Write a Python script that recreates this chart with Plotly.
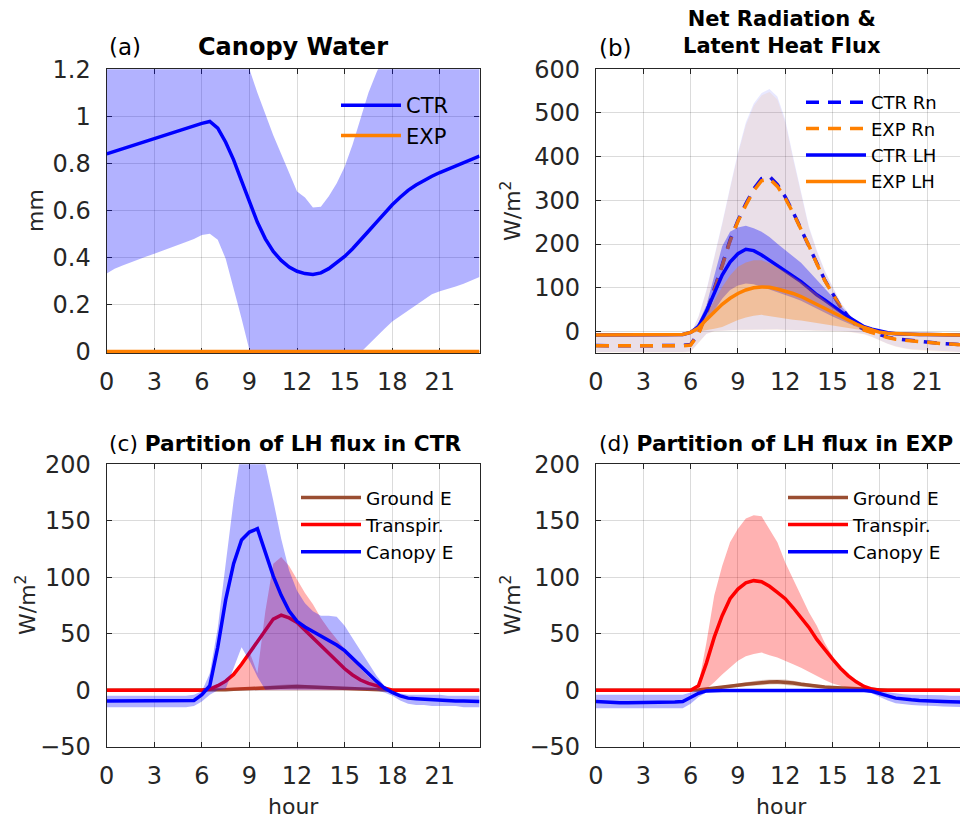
import plotly.graph_objects as go

# ---------------- data ----------------
hours = [0, 0.5, 1, 1.5, 2, 2.5, 3, 3.5, 4, 4.5, 5, 5.5, 6, 6.5, 7, 7.5, 8, 8.5, 9, 9.5,
         10, 10.5, 11, 11.5, 12, 12.5, 13, 13.5, 14, 14.5, 15, 15.5, 16, 16.5, 17, 17.5,
         18, 18.5, 19, 19.5, 20, 20.5, 21, 21.5, 22, 22.5, 23, 23.5]
hour_ticks = [0, 3, 6, 9, 12, 15, 18, 21]

# (a) canopy water (mm)
a_ctr = [0.840, 0.851, 0.862, 0.873, 0.884, 0.895, 0.906, 0.917, 0.928, 0.938, 0.948, 0.958,
         0.970, 0.978, 0.950, 0.890, 0.815, 0.725, 0.634, 0.549, 0.479, 0.425, 0.387, 0.359,
         0.341, 0.331, 0.327, 0.334, 0.352, 0.377, 0.404, 0.437, 0.472, 0.511, 0.549, 0.589,
         0.624, 0.656, 0.685, 0.708, 0.728, 0.745, 0.761, 0.775, 0.789, 0.803, 0.817, 0.831]
a_ctr_up = [1.34, 1.35, 1.36, 1.37, 1.38, 1.39, 1.40, 1.41, 1.42, 1.43, 1.44, 1.45,
            1.46, 1.46, 1.42, 1.38, 1.33, 1.27, 1.20, 1.10, 1.01, 0.92, 0.84, 0.76,
            0.68, 0.655, 0.612, 0.615, 0.66, 0.715, 0.785, 0.88, 0.99, 1.10, 1.185, 1.26,
            1.30, 1.32, 1.33, 1.34, 1.34, 1.35, 1.35, 1.35, 1.35, 1.35, 1.35, 1.35]
a_ctr_lo = [0.331, 0.352, 0.365, 0.378, 0.392, 0.404, 0.415, 0.428, 0.440, 0.452, 0.465, 0.478,
            0.495, 0.500, 0.475, 0.394, 0.268, 0.140, 0.005, -0.07, -0.12, -0.15, -0.17, -0.18,
            -0.18, -0.17, -0.16, -0.14, -0.12, -0.09, -0.06, -0.03, -0.005, 0.028, 0.063, 0.095,
            0.127, 0.152, 0.175, 0.198, 0.220, 0.243, 0.256, 0.267, 0.276, 0.288, 0.302, 0.317]
a_exp = [0, 0, 0, 0, 0, 0, 0, 0, 0, 0, 0, 0, 0, 0, 0, 0, 0, 0, 0, 0, 0, 0, 0, 0,
         0, 0, 0, 0, 0, 0, 0, 0, 0, 0, 0, 0, 0, 0, 0, 0, 0, 0, 0, 0, 0, 0, 0, 0]
a_yticks = [0, 0.2, 0.4, 0.6, 0.8, 1, 1.2]
a_yticklabels = ["0", "0.2", "0.4", "0.6", "0.8", "1", "1.2"]

# (b) net radiation & latent heat flux (W/m2)
b_ctr_rn = [-32, -33, -33, -33, -33, -33, -33, -33, -33, -33, -33, -32,
            -30, -4, 42, 95, 152, 209, 254, 292, 326, 350, 355, 336,
            308, 273, 235, 197, 156, 118, 87, 57, 34, 15, 4, -2,
            -6, -13, -17, -19, -21, -23, -25, -27, -28, -29, -30, -31]
b_exp_rn = [-33, -33, -34, -34, -34, -34, -34, -34, -34, -34, -33, -33,
            -31, -6, 40, 93, 150, 207, 252, 289, 322, 345, 349, 332,
            305, 271, 234, 196, 155, 117, 86, 56, 33, 14, 3, -3,
            -7, -14, -18, -20, -22, -24, -26, -27, -28, -29, -30, -31]
b_ctr_rn_up = [-9, -9, -9, -9, -9, -9, -9, -9, -9, -9, -9, -8,
               -6, 35, 95, 170, 248, 330, 410, 478, 522, 546, 555, 538,
               485, 400, 316, 240, 186, 140, 103, 68, 42, 23, 11, 4,
               0, -3, -5, -6, -7, -7, -8, -8, -8, -9, -9, -9]
b_ctr_rn_lo = [-47, -47, -47, -47, -47, -47, -47, -47, -47, -47, -47, -47,
               -46, -25, -5, 1, 2, 3, 4, 4, 5, 5, 5, 5,
               4, 4, 3, 3, 2, 2, 1, 1, 0, -3, -6, -12,
               -20, -28, -34, -38, -41, -43, -44, -45, -46, -47, -47, -48]
b_exp_rn_up = [-9, -9, -9, -9, -9, -9, -9, -9, -9, -9, -9, -8,
               -6, 33, 92, 166, 244, 326, 405, 472, 516, 540, 548, 531,
               478, 394, 311, 236, 183, 137, 101, 66, 41, 22, 10, 3,
               0, -3, -5, -6, -7, -7, -8, -8, -8, -9, -9, -9]
b_exp_rn_lo = [-48, -48, -48, -48, -48, -48, -48, -48, -48, -48, -48, -48,
               -47, -26, -6, 0, 1, 2, 3, 3, 4, 4, 4, 4,
               3, 3, 2, 2, 1, 1, 0, 0, -1, -4, -7, -13,
               -21, -29, -35, -39, -42, -44, -45, -46, -47, -48, -48, -48]
b_ctr_lh = [-8, -8, -8, -8, -8, -8, -8, -8, -8, -8, -8, -7,
            -2, 11, 46, 88, 129, 159, 178, 188, 185, 175, 163, 150,
            137, 125, 114, 99, 84, 72, 58, 46, 33, 21, 11, 5,
            0, -3, -5, -6, -6.5, -7, -7, -7.5, -7.5, -8, -8, -8]
b_ctr_lh_up = [-5, -5, -5, -5, -5, -5, -5, -5, -5, -5, -5, -4,
               0, 20, 60, 125, 195, 228, 238, 242, 236, 228, 216, 201,
               186, 172, 157, 138, 118, 98, 78, 58, 40, 24, 12, 5,
               1, -1, -2, -3, -4, -4, -4, -5, -5, -5, -5, -5]
b_ctr_lh_lo = [-11, -11, -11, -11, -11, -11, -11, -11, -11, -11, -11, -10,
               -5, 3, 22, 48, 75, 95, 105, 110, 108, 102, 96, 90,
               84, 77, 70, 61, 52, 43, 34, 26, 18, 11, 5, 1,
               -1, -5, -8, -9, -9, -10, -10, -10, -11, -11, -11, -11]
b_exp_lh = [-8, -8, -8, -8, -8, -8, -8, -8, -8, -8, -8, -7,
            -2, 8, 27, 45, 62, 76, 87, 95, 100, 102, 101, 97,
            93, 87, 80, 71, 62, 52, 42, 33, 25, 17, 9, 3,
            -2, -4, -5, -6, -6.5, -7, -7, -7.5, -7.5, -8, -8, -8]
b_exp_lh_up = [-5, -5, -5, -5, -5, -5, -5, -5, -5, -5, -5, -4,
               0, 12, 38, 70, 102, 128, 148, 158, 163, 163, 156, 147,
               137, 126, 114, 101, 87, 72, 57, 43, 30, 20, 11, 4,
               0, -2, -3, -4, -4, -4, -5, -5, -5, -5, -5, -5]
b_exp_lh_lo = [-11, -11, -11, -11, -11, -11, -11, -11, -11, -11, -11, -10,
               -5, 0, 3, 6, 10, 18, 26, 32, 36, 38, 36, 33,
               30, 27, 25, 22, 19, 16, 14, 11, 8, 5, 2, 0,
               -2, -6, -8, -9, -10, -10, -10, -11, -11, -11, -11, -11]
b_yticks = [0, 100, 200, 300, 400, 500, 600]

# (c) partition of LH flux in CTR (W/m2)
c_ground = [0, 0, 0, 0, 0, 0, 0, 0, 0, 0, 0, 0,
            0, 0.1, 0.3, 0.5, 0.8, 1.1, 1.5, 1.9, 2.3, 2.7, 3.0, 3.2,
            3.2, 3.0, 2.7, 2.3, 2.0, 1.6, 1.3, 1.0, 0.8, 0.5, 0.3, 0.1,
            0, 0, 0, 0, 0, 0, 0, 0, 0, 0, 0, 0]
c_ground_up = [0.3, 0.3, 0.3, 0.3, 0.3, 0.3, 0.3, 0.3, 0.3, 0.3, 0.3, 0.3,
               0.3, 0.5, 0.9, 1.3, 1.8, 2.4, 3.0, 3.6, 4.2, 4.7, 5.0, 5.2,
               5.2, 4.9, 4.4, 3.8, 3.3, 2.7, 2.2, 1.8, 1.4, 1.0, 0.7, 0.4,
               0.3, 0.3, 0.3, 0.3, 0.3, 0.3, 0.3, 0.3, 0.3, 0.3, 0.3, 0.3]
c_ground_lo = [-0.3, -0.3, -0.3, -0.3, -0.3, -0.3, -0.3, -0.3, -0.3, -0.3, -0.3, -0.3,
               -0.3, -0.2, 0.0, 0.1, 0.2, 0.3, 0.5, 0.7, 0.9, 1.1, 1.3, 1.4,
               1.4, 1.3, 1.1, 0.9, 0.7, 0.5, 0.4, 0.3, 0.2, 0.1, 0.0, -0.1,
               -0.3, -0.3, -0.3, -0.3, -0.3, -0.3, -0.3, -0.3, -0.3, -0.3, -0.3, -0.3]
c_transp = [0, 0, 0, 0, 0, 0, 0, 0, 0, 0, 0, 0,
            0, 1, 4, 8, 14, 23, 33, 44, 54, 63, 66.5, 64,
            60, 53, 47, 40, 32, 25, 19, 13.5, 9, 6, 4, 1.5,
            0, 0, 0, 0, 0, 0, 0, 0, 0, 0, 0, 0]
c_transp_up = [0, 0, 0, 0, 0, 0, 0, 0, 0, 0, 0, 0,
               0, 1.5, 5, 9, 15, 24, 34, 15, 70, 112, 118, 110,
               98, 86, 76, 64, 54, 45, 36, 27, 19, 12, 6, 2,
               0, 0, 0, 0, 0, 0, 0, 0, 0, 0, 0, 0]
c_transp_lo = [0, 0, 0, 0, 0, 0, 0, 0, 0, 0, 0, 0,
               0, 0, 0, 0, 0, 0, 0, 0, 0, 0, 0, 0,
               0, 0, 0, 0, 0, 0, 0, 0, 0, 0, 0, 0,
               0, 0, 0, 0, 0, 0, 0, 0, 0, 0, 0, 0]
c_canopy = [-9.5, -9.5, -9.5, -9.5, -9.5, -9.5, -9.5, -9.5, -9.5, -9.5, -9.5, -9,
            -4, 4, 38, 80, 112, 133, 140, 143, 122, 101, 84, 70,
            61, 56, 52, 48, 44, 40, 35, 28, 22, 15, 8, 2,
            -2, -5, -7, -7.5, -8, -8.5, -9, -9, -9.5, -9.5, -10, -10]
c_canopy_up = [-5, -5, -5, -5, -5, -5, -5, -5, -5, -5, -5, -4,
               -1, 15, 55, 112, 168, 215, 240, 238, 200, 168, 134, 106,
               88, 77, 70, 66, 66, 65, 57, 46, 35, 24, 13, 4,
               -1, -3, -4, -4, -4, -4, -4, -5, -5, -5, -5, -5]
c_canopy_lo = [-15, -15, -15, -15, -15, -15, -15, -15, -15, -15, -15, -14,
               -10, -4, 0, 1, 19, 38, 26, 12, 0.5, 0.5, 0.5, 0.5,
               0.5, 0.5, 0.5, 0.5, 0.5, 0.5, 0.5, 0.5, 0.5, 0.3, 0, -2,
               -5, -9, -12, -13, -13, -14, -14, -14, -14, -15, -15, -15]

# (d) partition of LH flux in EXP (W/m2)
d_ground = [0, 0, 0, 0, 0, 0, 0, 0, 0, 0, 0, 0,
            0, 0.3, 1.0, 1.7, 2.4, 3.4, 4.4, 5.3, 6.2, 6.8, 7.3, 7.5,
            7.2, 6.3, 5.2, 4.2, 3.4, 2.8, 2.4, 2.0, 1.6, 1.2, 0.8, 0.4,
            0, 0, 0, 0, 0, 0, 0, 0, 0, 0, 0, 0]
d_ground_up = [0.3, 0.3, 0.3, 0.3, 0.3, 0.3, 0.3, 0.3, 0.3, 0.3, 0.3, 0.3,
               0.3, 0.8, 1.8, 2.7, 3.6, 4.8, 6.0, 7.1, 8.2, 9.0, 9.6, 9.8,
               9.5, 8.4, 7.0, 5.8, 4.8, 4.0, 3.4, 2.9, 2.4, 1.8, 1.3, 0.8,
               0.3, 0.3, 0.3, 0.3, 0.3, 0.3, 0.3, 0.3, 0.3, 0.3, 0.3, 0.3]
d_ground_lo = [-0.3, -0.3, -0.3, -0.3, -0.3, -0.3, -0.3, -0.3, -0.3, -0.3, -0.3, -0.3,
               -0.3, -0.1, 0.3, 0.8, 1.3, 2.0, 2.8, 3.5, 4.2, 4.7, 5.0, 5.2,
               5.0, 4.3, 3.4, 2.7, 2.1, 1.7, 1.4, 1.1, 0.8, 0.6, 0.3, 0.0,
               -0.3, -0.3, -0.3, -0.3, -0.3, -0.3, -0.3, -0.3, -0.3, -0.3, -0.3, -0.3]
d_transp = [0, 0, 0, 0, 0, 0, 0, 0, 0, 0, 0, 0,
            0, 4, 24, 47, 66, 81, 89.5, 95, 97, 96, 92, 86.6,
            81, 73, 64, 55.6, 45, 36, 27.5, 19.5, 12.7, 7.4, 3.3, 1,
            0, 0, 0, 0, 0, 0, 0, 0, 0, 0, 0, 0]
d_transp_up = [0, 0, 0, 0, 0, 0, 0, 0, 0, 0, 0, 0,
               0, 5, 42, 84, 110, 131, 143, 152, 155, 154, 143, 131,
               113, 98, 84, 69, 57, 42, 30, 20, 12.7, 7.4, 3.3, 1,
               0, 0, 0, 0, 0, 0, 0, 0, 0, 0, 0, 0]
d_transp_lo = [0, 0, 0, 0, 0, 0, 0, 0, 0, 0, 0, 0,
               0, 0, 1, 7, 14, 20, 26, 30, 32, 33.4, 31, 29,
               26, 23, 20, 16, 12.7, 9, 6, 4, 2, 1, 0.5, 0,
               0, 0, 0, 0, 0, 0, 0, 0, 0, 0, 0, 0]
d_canopy = [-10, -10.5, -10.5, -11, -11, -11, -11, -11, -10.5, -10.5, -10.5, -10,
            -6.5, -2.7, -0.6, -0.2, -0.2, -0.2, -0.2, -0.2, -0.2, -0.2, -0.2, -0.2,
            -0.2, -0.2, -0.2, -0.2, -0.2, -0.2, -0.2, -0.2, -0.2, -0.2, -0.3, -1,
            -2.7, -5, -7, -8, -8.5, -9, -9.5, -9.8, -10, -10.2, -10.5, -10.5]
d_canopy_up = [-4, -4, -4, -4, -4, -4, -4, -4, -4, -4, -4, -4,
               -2, 0, 0.5, 0.5, 0.5, 0.5, 0.5, 0.5, 0.5, 0.5, 0.5, 0.5,
               0.5, 0.5, 0.5, 0.5, 0.5, 0.5, 0.5, 0.5, 0.5, 0.5, 0.3, 0,
               -1, -2, -3, -3.5, -4, -4, -4, -4.5, -4.5, -5, -5, -5]
d_canopy_lo = [-16, -16, -16, -16, -16, -16, -16, -16, -16, -16, -16, -16,
               -12, -6, -2, -1, -0.8, -0.8, -0.8, -0.8, -0.8, -0.8, -0.8, -0.8,
               -0.8, -0.8, -0.8, -0.8, -0.8, -0.8, -0.8, -0.8, -0.8, -0.8, -1, -3,
               -6, -9, -11.5, -12.5, -13, -13.5, -14, -14, -14.5, -14.5, -15, -15]
cd_yticks = [-50, 0, 50, 100, 150, 200]

# ---------------- styling ----------------
FONT = "DejaVu Sans"
DARK = "#262626"
GRID = "rgba(0,0,0,0.14)"
BLUE = "#0000FF"
ORANGE = "#FF8000"
RED = "#FF0000"
BROWN = "#9A4E32"
W, H = 960, 819
LW = 3.5


def fx(p):
    return p / W


def fy(p):
    return 1 - p / H


fig = go.Figure()


def band(x, up, lo, color, xa, ya):
    fig.add_trace(go.Scatter(x=x + x[::-1], y=up + lo[::-1], fill="toself",
                             fillcolor=color, line=dict(width=0), mode="lines",
                             hoverinfo="skip", showlegend=False, xaxis=xa, yaxis=ya))


def line(x, y, color, name, xa, ya, legend, dash="solid"):
    fig.add_trace(go.Scatter(x=x, y=y, mode="lines", name=name,
                             line=dict(color=color, width=LW, dash=dash),
                             xaxis=xa, yaxis=ya, legend=legend))


# (a)
band(hours, a_ctr_up, a_ctr_lo, "rgba(0,0,255,0.30)", "x", "y")
line(hours, a_ctr, BLUE, "CTR", "x", "y", "legend")
line(hours, a_exp, ORANGE, "EXP", "x", "y", "legend")

# (b)
DASH = "13px,9px"
band(hours, b_ctr_rn_up, b_ctr_rn_lo, "rgba(0,0,255,0.09)", "x2", "y2")
line(hours, b_ctr_rn, BLUE, "CTR Rn", "x2", "y2", "legend2", DASH)
band(hours, b_exp_rn_up, b_exp_rn_lo, "rgba(255,128,0,0.09)", "x2", "y2")
line(hours, b_exp_rn, ORANGE, "EXP Rn", "x2", "y2", "legend2", DASH)
band(hours, b_ctr_lh_up, b_ctr_lh_lo, "rgba(0,0,255,0.35)", "x2", "y2")
line(hours, b_ctr_lh, BLUE, "CTR LH", "x2", "y2", "legend2")
band(hours, b_exp_lh_up, b_exp_lh_lo, "rgba(255,128,0,0.32)", "x2", "y2")
line(hours, b_exp_lh, ORANGE, "EXP LH", "x2", "y2", "legend2")

# (c)
band(hours, c_ground_up, c_ground_lo, "rgba(154,78,50,0.30)", "x3", "y3")
line(hours, c_ground, BROWN, "Ground E", "x3", "y3", "legend3")
band(hours, c_transp_up, c_transp_lo, "rgba(255,0,0,0.30)", "x3", "y3")
line(hours, c_transp, RED, "Transpir.", "x3", "y3", "legend3")
band(hours, c_canopy_up, c_canopy_lo, "rgba(0,0,255,0.30)", "x3", "y3")
line(hours, c_canopy, BLUE, "Canopy E", "x3", "y3", "legend3")

# (d)
band(hours, d_ground_up, d_ground_lo, "rgba(154,78,50,0.30)", "x4", "y4")
line(hours, d_ground, BROWN, "Ground E", "x4", "y4", "legend4")
band(hours, d_transp_up, d_transp_lo, "rgba(255,0,0,0.30)", "x4", "y4")
line(hours, d_transp, RED, "Transpir.", "x4", "y4", "legend4")
band(hours, d_canopy_up, d_canopy_lo, "rgba(0,0,255,0.30)", "x4", "y4")
line(hours, d_canopy, BLUE, "Canopy E", "x4", "y4", "legend4")

TICKFONT = dict(family=FONT, size=24, color=DARK)


def xax(dom, rng, anchor):
    return dict(domain=dom, range=rng, anchor=anchor, tickvals=hour_ticks,
                ticktext=[str(t) for t in hour_ticks],
                ticks="inside", ticklen=5, tickwidth=1, tickcolor=DARK,
                showline=True, linecolor=DARK, linewidth=1.3, mirror="ticks",
                showgrid=True, gridcolor=GRID, gridwidth=1, zeroline=False,
                tickfont=TICKFONT, ticklabelstandoff=7, layer="below traces",
                automargin=False)


def yax(dom, rng, anchor, vals, texts, mirror):
    return dict(domain=dom, range=rng, anchor=anchor, tickvals=vals, ticktext=texts,
                ticks="inside", ticklen=5, tickwidth=1, tickcolor=DARK,
                showline=True, linecolor=DARK, linewidth=1.3, mirror=mirror,
                showgrid=True, gridcolor=GRID, gridwidth=1, zeroline=False,
                tickfont=TICKFONT, ticklabelstandoff=10, layer="below traces",
                automargin=False)


XL = [fx(106.7), fx(479.5)]
XR = [fx(596), 1.0]
YT = [fy(353.3), fy(69.3)]
YB = [fy(746.7), fy(464.3)]

fig.update_layout(
    width=W, height=H, margin=dict(l=0, r=0, t=0, b=0, autoexpand=False),
    paper_bgcolor="white", plot_bgcolor="white",
    font=dict(family=FONT, color=DARK),
    xaxis=xax(XL, [0, 23.5], "y"),
    yaxis=yax(YT, [-0.008, 1.2], "x", a_yticks, a_yticklabels, "ticks"),
    xaxis2=xax(XR, [0, 23.08], "y2"),
    yaxis2=yax(YT, [-50, 600], "x2", b_yticks, [str(v) for v in b_yticks], False),
    xaxis3=xax(XL, [0, 23.5], "y3"),
    yaxis3=yax(YB, [-50, 200], "x3", cd_yticks, [str(v).replace("-", "\u2212") for v in cd_yticks], "ticks"),
    xaxis4=xax(XR, [0, 23.08], "y4"),
    yaxis4=yax(YB, [-50, 200], "x4", cd_yticks, [str(v).replace("-", "\u2212") for v in cd_yticks], False),
    hovermode=False,
)

IW = 60
LEG = dict(bgcolor="rgba(0,0,0,0)", borderwidth=0, xanchor="left", yanchor="top",
           itemwidth=IW, tracegroupgap=0, itemclick=False, itemdoubleclick=False)
SHIFT = IW - 30
fig.update_layout(
    legend=dict(LEG, x=fx(366 - SHIFT), y=fy(85), font=dict(family=FONT, size=21, color="black")),
    legend2=dict(LEG, x=fx(831 - SHIFT), y=fy(84), font=dict(family=FONT, size=18, color="black")),
    legend3=dict(LEG, x=fx(326 - SHIFT), y=fy(479), font=dict(family=FONT, size=18.5, color="black")),
    legend4=dict(LEG, x=fx(813 - SHIFT), y=fy(479), font=dict(family=FONT, size=18.5, color="black")),
)

ann = []


def text(x, y, s, size=22, xanchor="center", angle=0, color="black"):
    ann.append(dict(x=fx(x), y=fy(y), xref="paper", yref="paper", text=s, showarrow=False,
                    xanchor=xanchor, yanchor="middle", textangle=angle,
                    font=dict(family=FONT, size=size, color=color)))


text(107, 47, "(a)", xanchor="left", size=23)
text(293, 47, "<b>Canopy Water</b>", size=24)
text(597, 48, "(b)", xanchor="left", size=23)
text(782, 33, "<b>Net Radiation &amp;<br>Latent Heat Flux</b>", size=21)
text(107, 444, "(c) <b>Partition of LH flux in CTR</b>", xanchor="left", size=21.7)
text(597, 444, "(d) <b>Partition of LH flux in EXP</b>", xanchor="left", size=21.7)
text(36, 211, "mm", angle=-90, color=DARK)
text(511, 211, "W/m<sup>2</sup>", angle=-90, color=DARK)
text(26, 605, "W/m<sup>2</sup>", angle=-90, color=DARK)
text(511, 605, "W/m<sup>2</sup>", angle=-90, color=DARK)
text(293, 806, "hour", color=DARK)
text(781, 806, "hour", color=DARK)
fig.update_layout(annotations=ann)

fig.write_html("out.html", config={"displayModeBar": False},
               post_script="document.body.style.margin='0';document.body.style.overflow='hidden';")
